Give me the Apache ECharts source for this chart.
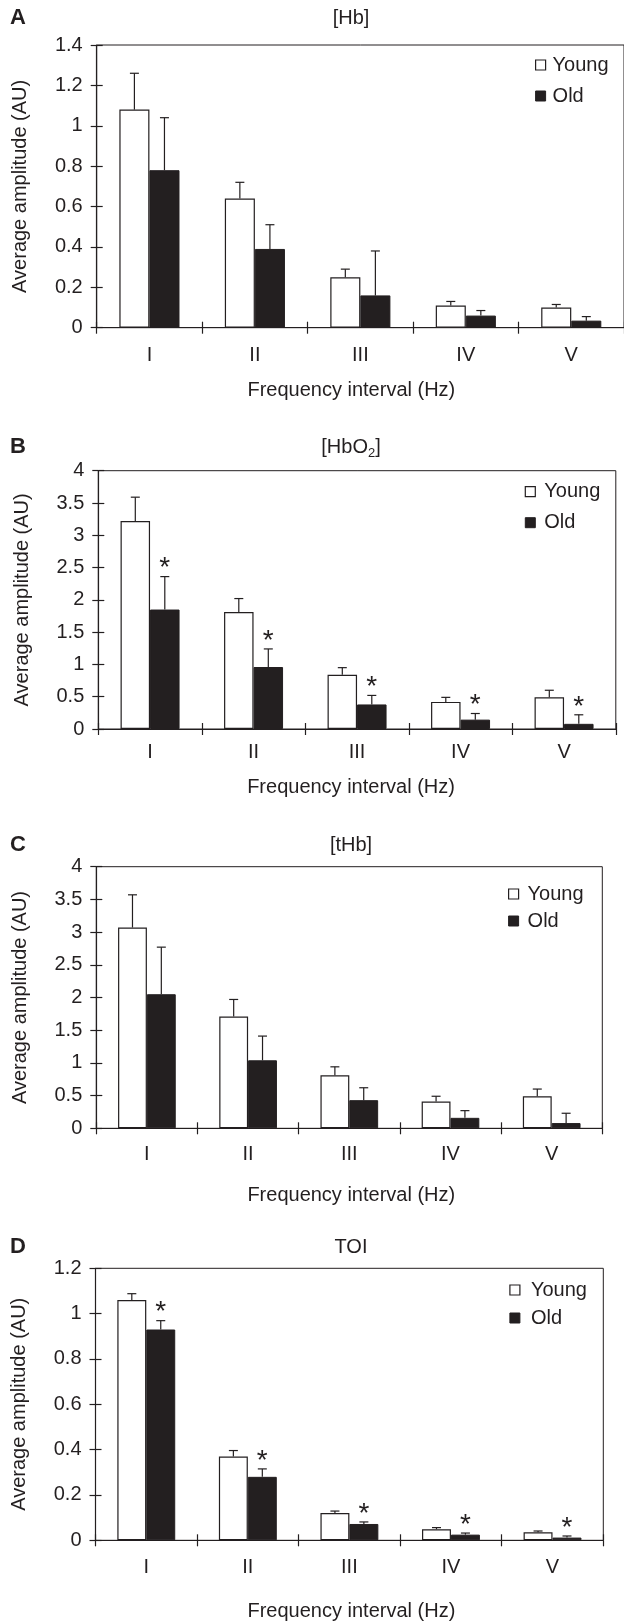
<!DOCTYPE html>
<html>
<head>
<meta charset="utf-8">
<title>Average amplitude by frequency interval</title>
<script src="https://cdn.jsdelivr.net/npm/echarts@6/dist/echarts.min.js"></script>
<style>
    html, body { margin: 0; padding: 0; background: #fff; }
    #chart { width: 624px; height: 1624px; }
</style>
</head>
<body>
<div id="chart"></div>
<script>
// ---- data ----
const categories = ['I', 'II', 'III', 'IV', 'V'];

// A: [Hb]
const hbYoung   = [1.08, 0.64, 0.25, 0.11, 0.10];
const hbYoungSd = [0.18, 0.08, 0.04, 0.02, 0.015];
const hbOld     = [0.78, 0.39, 0.16, 0.06, 0.035];
const hbOldSd   = [0.26, 0.12, 0.22, 0.025, 0.02];

// B: [HbO2]
const hbo2Young   = [3.22, 1.81, 0.84, 0.42, 0.49];
const hbo2YoungSd = [0.37, 0.21, 0.11, 0.07, 0.11];
const hbo2Old     = [1.85, 0.96, 0.38, 0.145, 0.08];
const hbo2OldSd   = [0.51, 0.28, 0.14, 0.095, 0.14];

// C: [tHb]
const thbYoung   = [3.07, 1.71, 0.81, 0.41, 0.49];
const thbYoungSd = [0.50, 0.26, 0.13, 0.08, 0.11];
const thbOld     = [2.05, 1.04, 0.43, 0.16, 0.08];
const thbOldSd   = [0.72, 0.37, 0.19, 0.11, 0.15];

// D: TOI
const toiYoung   = [1.06, 0.37, 0.12, 0.049, 0.035];
const toiYoungSd = [0.028, 0.026, 0.009, 0.007, 0.006];
const toiOld     = [0.93, 0.28, 0.072, 0.025, 0.012];
const toiOldSd   = [0.039, 0.035, 0.009, 0.007, 0.007];

const panelData = [
    {letter: 'A', title: '[Hb]', young: hbYoung, youngSd: hbYoungSd, old: hbOld, oldSd: hbOldSd, max: 1.4, interval: 0.2, stars: false},
    {letter: 'B', title: '[HbO{sub|2}]', young: hbo2Young, youngSd: hbo2YoungSd, old: hbo2Old, oldSd: hbo2OldSd, max: 4, interval: 0.5, stars: true},
    {letter: 'C', title: '[tHb]', young: thbYoung, youngSd: thbYoungSd, old: thbOld, oldSd: thbOldSd, max: 4, interval: 0.5, stars: false},
    {letter: 'D', title: 'TOI', young: toiYoung, youngSd: toiYoungSd, old: toiOld, oldSd: toiOldSd, max: 1.2, interval: 0.2, stars: true}
];

// ---- layout ----
const layout = [
    {grid: {left: 96.7, top: 45, width: 527.5, height: 282.7}, titleY: 18, labelMargin: 18, xNameGap: 53, xNameShift: -9, legendLeft: 535, legendTop: 55, legendGap: 11, legendPad: 2},
    {grid: {left: 98.3, top: 470.7, width: 517.5, height: 258.3}, titleY: 447, labelMargin: 13, xNameGap: 48, xNameShift: -6, legendLeft: 524.7, legendTop: 481.7, legendGap: 11, legendPad: 4},
    {grid: {left: 96.3, top: 866.7, width: 506, height: 261.6}, titleY: 845, labelMargin: 16, xNameGap: 57, xNameShift: 2, legendLeft: 508, legendTop: 884, legendGap: 7, legendPad: 4},
    {grid: {left: 95.5, top: 1268.3, width: 507.8, height: 272}, titleY: 1247, labelMargin: 17.5, xNameGap: 61, xNameShift: 2, legendLeft: 509.3, legendTop: 1280, legendGap: 8, legendPad: 6}
];

const INK = '#231f20';
const FONT = "'Liberation Sans', Arial, Helvetica, sans-serif";
const BAR_FRACTION = 0.285;
const CAP = 4.5;

const errorBar = (side, withStar) => function (params, api) {
    const cat = api.value(0);
    const mean = api.value(1);
    const top = mean + api.value(2);
    const band = api.size([1, 0])[0];
    const p0 = api.coord([cat, mean]);
    const p1 = api.coord([cat, top]);
    const x = p0[0] + side * band * BAR_FRACTION / 2;
    const children = [
        {type: 'line', shape: {x1: x, y1: p0[1], x2: x, y2: p1[1]}, style: {stroke: INK, lineWidth: 1.2}},
        {type: 'line', shape: {x1: x - CAP, y1: p1[1], x2: x + CAP, y2: p1[1]}, style: {stroke: INK, lineWidth: 1.2}}
    ];
    if (withStar) {
        children.push({type: 'text', x: x, y: p1[1] - 8, style: {
            text: '*', fill: INK, fontSize: 28, fontFamily: FONT, align: 'center', verticalAlign: 'middle'
        }});
    }
    return {type: 'group', children: children};
};

const toTriples = (means, sds) => means.map((m, i) => [i, m, sds[i]]);

const grids = [], xAxes = [], yAxes = [], series = [], legends = [], graphics = [];

panelData.forEach((p, i) => {
    const L = layout[i];
    grids.push(Object.assign({show: true, borderColor: INK, borderWidth: 1, backgroundColor: 'transparent'}, L.grid));

    // main category axis (ticks outward) + twin for the inward half of the ticks
    xAxes.push({
        type: 'category', gridIndex: i, data: categories, position: 'bottom',
        axisLine: {lineStyle: {color: INK, width: 1.2}},
        axisTick: {show: true, length: 6, lineStyle: {color: INK, width: 1.2}},
        axisLabel: {color: INK, fontSize: 20, fontFamily: FONT, margin: L.labelMargin},
        name: 'Frequency interval (Hz)', nameLocation: 'middle', nameGap: L.xNameGap,
        nameTextStyle: {color: INK, fontSize: 20, fontFamily: FONT,
            padding: L.xNameShift < 0 ? [0, -2 * L.xNameShift, 0, 0] : [0, 0, 0, 2 * L.xNameShift]}
    });
    xAxes.push({
        type: 'category', gridIndex: i, data: categories, position: 'bottom',
        axisLine: {show: false},
        axisTick: {show: true, inside: true, length: 6, lineStyle: {color: INK, width: 1.2}},
        axisLabel: {show: false}
    });
    yAxes.push({
        type: 'value', gridIndex: i, min: 0, max: p.max, interval: p.interval, position: 'left',
        axisLine: {show: true, lineStyle: {color: INK, width: 1.2}},
        axisTick: {show: true, length: 6, lineStyle: {color: INK, width: 1.2}},
        axisLabel: {color: INK, fontSize: 20, fontFamily: FONT, margin: 14},
        splitLine: {show: false},
        name: 'Average amplitude (AU)', nameLocation: 'middle', nameGap: 66,
        nameTextStyle: {color: INK, fontSize: 20, fontFamily: FONT}
    });
    yAxes.push({
        type: 'value', gridIndex: i, min: 0, max: p.max, interval: p.interval, position: 'left',
        axisLine: {show: false},
        axisTick: {show: true, inside: true, length: 6, lineStyle: {color: INK, width: 1.2}},
        axisLabel: {show: false},
        splitLine: {show: false}
    });

    const xi = 2 * i, yi = 2 * i;
    series.push({
        name: 'Young', type: 'bar', xAxisIndex: xi, yAxisIndex: yi,
        barWidth: (BAR_FRACTION * 100) + '%', barGap: '0%',
        itemStyle: {color: '#fff', borderColor: INK, borderWidth: 1.2},
        data: p.young
    });
    series.push({
        name: 'Old', type: 'bar', xAxisIndex: xi, yAxisIndex: yi,
        barWidth: (BAR_FRACTION * 100) + '%', barGap: '0%',
        itemStyle: {color: INK, borderColor: INK, borderWidth: 1},
        data: p.old
    });
    series.push({
        name: 'Young SD', type: 'custom', xAxisIndex: xi, yAxisIndex: yi, z: 5, silent: true,
        encode: {x: 0, y: 1}, renderItem: errorBar(-1, false), data: toTriples(p.young, p.youngSd)
    });
    series.push({
        name: 'Old SD', type: 'custom', xAxisIndex: xi, yAxisIndex: yi, z: 5, silent: true,
        encode: {x: 0, y: 1}, renderItem: errorBar(1, p.stars), data: toTriples(p.old, p.oldSd)
    });

    legends.push({
        orient: 'vertical', left: L.legendLeft, top: L.legendTop, itemGap: L.legendGap, padding: 0,
        itemWidth: 10, itemHeight: 10, icon: 'rect', selectedMode: false,
        textStyle: {color: INK, fontSize: 20, fontFamily: FONT, padding: [0, 0, 0, L.legendPad]},
        data: [
            {name: 'Young', itemStyle: {color: '#fff', borderColor: INK, borderWidth: 1.2}},
            {name: 'Old', itemStyle: {color: INK, borderColor: INK, borderWidth: 1}}
        ]
    });

    graphics.push({
        type: 'text', x: 10, y: L.titleY,
        style: {text: p.letter, fill: INK, fontSize: 22, fontWeight: 'bold', fontFamily: FONT, verticalAlign: 'middle'}
    });
    graphics.push({
        type: 'text', x: 351, y: L.titleY,
        style: {
            text: p.title, fill: INK, fontSize: 20, fontFamily: FONT, align: 'center', verticalAlign: 'middle',
            rich: {sub: {fontSize: 13, fontFamily: FONT, fill: INK, padding: [12, 0, 0, 0]}}
        }
    });
});

const chart = echarts.init(document.getElementById('chart'), null, {renderer: 'canvas'});
chart.setOption({
    animation: false,
    backgroundColor: '#fff',
    grid: grids,
    xAxis: xAxes,
    yAxis: yAxes,
    legend: legends,
    graphic: graphics,
    series: series
});
</script>
</body>
</html>
